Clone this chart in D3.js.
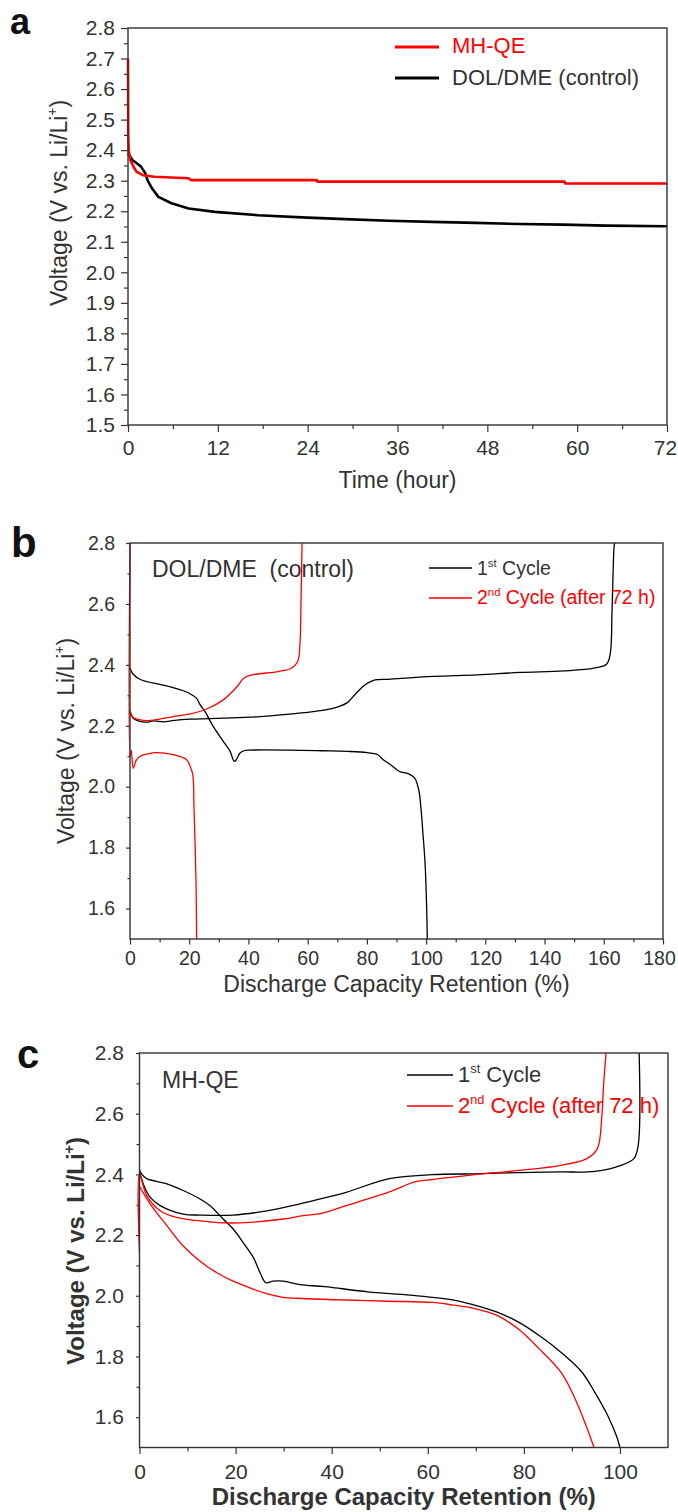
<!DOCTYPE html>
<html>
<head>
<meta charset="utf-8">
<script src="https://cdn.jsdelivr.net/npm/d3@7"></script>
<style>
  body { margin: 0; background: #fff; }
  svg { display: block; font-family: "Liberation Sans", Arial, sans-serif; }
</style>
</head>
<body>
<svg id="chart" width="678" height="1512"></svg>
<script>
// ---- panel a: voltage vs time (hour) ----
const aTimeTicks = [0, 12, 24, 36, 48, 60, 72];
const aTimeMinor = [6, 18, 30, 42, 54, 66];
const aVoltTicks = [1.5, 1.6, 1.7, 1.8, 1.9, 2.0, 2.1, 2.2, 2.3, 2.4, 2.5, 2.6, 2.7, 2.8];
const aVoltMinor = [1.55, 1.65, 1.75, 1.85, 1.95, 2.05, 2.15, 2.25, 2.35, 2.45, 2.55, 2.65, 2.75];
const aMHQE = [[0, 2.70], [0.03, 2.45], [0.1, 2.40], [0.29, 2.368], [0.87, 2.34], [1.16, 2.329], [2.0, 2.318],
  [3.5, 2.313], [8.1, 2.308], [8.4, 2.302], [25.2, 2.302], [25.3, 2.297], [58.3, 2.297], [58.4, 2.291], [72, 2.291]];
const aControl = [[0, 2.39], [0.58, 2.368], [1.16, 2.357], [1.74, 2.346], [2.32, 2.324], [2.6, 2.302], [3.2, 2.275],
  [4.06, 2.247], [5.8, 2.226], [8.1, 2.209], [11.6, 2.198], [17.4, 2.187], [23.2, 2.18], [29, 2.174], [34.8, 2.169],
  [40.6, 2.165], [46.5, 2.162], [52.3, 2.158], [58, 2.156], [63.9, 2.153], [72, 2.151]];

// ---- panel b: DOL/DME (control) ----
const bCapTicks = [0, 20, 40, 60, 80, 100, 120, 140, 160, 180];
const bCapMinor = [10, 30, 50, 70, 90, 110, 130, 150, 170];
const bVoltTicks = [1.6, 1.8, 2.0, 2.2, 2.4, 2.6, 2.8];
const bVoltMinor = [1.7, 1.9, 2.1, 2.3, 2.5, 2.7];
const bCycle1Dis = [[0, 2.39], [1, 2.37], [3.7, 2.351], [10, 2.336], [14, 2.327], [18, 2.315], [20.3, 2.305], [22.5, 2.29],
  [23.6, 2.27], [25.3, 2.247], [28.1, 2.198], [31.5, 2.149], [33.8, 2.116], [35.2, 2.083], [36, 2.09], [37.1, 2.11],
  [38.5, 2.118], [40.5, 2.12], [54, 2.12], [65, 2.118], [73.4, 2.116], [80, 2.112], [83.7, 2.105], [85.1, 2.092],
  [88, 2.072], [91, 2.05], [93.9, 2.043], [96.1, 2.029], [97.5, 1.99], [98.3, 1.925], [99, 1.837], [99.3, 1.80],
  [99.7, 1.739], [100.2, 1.597], [100.4, 1.5]];
const bCycle1Chg = [[0, 2.245], [1, 2.225], [3, 2.215], [5.6, 2.212], [8, 2.216], [11.3, 2.213], [15, 2.218], [20.3, 2.222],
  [31.5, 2.225], [44, 2.23], [58.8, 2.243], [66, 2.252], [70.5, 2.263], [73.4, 2.276], [76.4, 2.307], [79.3, 2.334],
  [82.2, 2.349], [88, 2.353], [102.6, 2.362], [117.2, 2.367], [131.8, 2.375], [146.4, 2.38], [156.7, 2.389],
  [161, 2.403], [162.2, 2.438], [162.8, 2.58], [163.5, 2.79], [163.7, 2.8]];
const bCycle2Dis = [[0, 2.8], [0, 2.1], [0.4, 2.12], [1.1, 2.06], [2, 2.085], [3.4, 2.1], [6, 2.108], [9, 2.112],
  [14.6, 2.105], [19.1, 2.089], [20.3, 2.067], [21.2, 2.04], [21.6, 1.935], [22.3, 1.684], [22.5, 1.5]];
const bCycle2Chg = [[0, 2.25], [1, 2.228], [2.25, 2.222], [5.6, 2.217], [10, 2.222], [14.6, 2.23], [20.3, 2.239],
  [25.9, 2.255], [31.5, 2.285], [36.2, 2.329], [38.4, 2.356], [41.3, 2.367], [50.1, 2.378], [54.5, 2.389],
  [56.6, 2.41], [57.4, 2.471], [57.7, 2.58], [58.1, 2.8]];

// ---- panel c: MH-QE ----
const cCapTicks = [0, 20, 40, 60, 80, 100];
const cCapMinor = [10, 30, 50, 70, 90];
const cVoltTicks = bVoltTicks;
const cVoltMinor = bVoltMinor;
const cCycle1Dis = [[0, 2.415], [0.5, 2.40], [1.5, 2.386], [5.7, 2.369], [9.1, 2.347], [12.6, 2.319], [14.7, 2.297],
  [17.4, 2.253], [19.5, 2.22], [21.6, 2.175], [23.7, 2.126], [25.1, 2.076], [26.3, 2.043], [27.8, 2.048],
  [29.9, 2.048], [33.4, 2.037], [38.6, 2.03], [47.5, 2.013], [56.4, 2.002], [65.4, 1.986], [69.8, 1.969],
  [74.3, 1.947], [78.8, 1.914], [83.2, 1.869], [87.7, 1.814], [92.1, 1.748], [94.8, 1.681], [97.5, 1.604],
  [99.3, 1.537], [100, 1.5]];
const cCycle1Chg = [[0, 2.408], [1, 2.36], [2.2, 2.325], [4.3, 2.297], [9.1, 2.269], [12.6, 2.266], [19.5, 2.266],
  [26.5, 2.28], [33.4, 2.303], [37.6, 2.319], [43, 2.341], [52, 2.386], [60.9, 2.399], [69.8, 2.402], [78.8, 2.406],
  [87.7, 2.408], [94.8, 2.41], [100.2, 2.43], [102.9, 2.452], [103.8, 2.496], [104, 2.8]];
const cCycle2Chg = [[0, 2.14], [0, 2.40], [1.5, 2.33], [4.3, 2.28], [7.7, 2.258], [12.6, 2.247], [18.1, 2.24], [23, 2.242],
  [29.9, 2.253], [34.1, 2.264], [37.6, 2.271], [43, 2.297], [52, 2.342], [57.3, 2.375], [60.9, 2.383], [69.8, 2.399],
  [78.8, 2.413], [87.7, 2.43], [93.1, 2.452], [95.3, 2.485], [96.2, 2.585], [96.6, 2.696], [97.1, 2.8]];
const cCycle2Dis = [[0, 2.36], [2.2, 2.303], [5.7, 2.231], [9.1, 2.164], [12.6, 2.114], [16.1, 2.076], [19.5, 2.048],
  [23, 2.026], [26.5, 2.007], [29.9, 1.995], [34.1, 1.991], [43, 1.986], [52, 1.982], [60.9, 1.978], [65.4, 1.969],
  [69.8, 1.958], [74.3, 1.936], [78.8, 1.891], [83.2, 1.825], [87.7, 1.748], [90.4, 1.67], [93, 1.57], [94.6, 1.5]];

const RED = '#ff0000';
const INK = '#333';
const svg = d3.select('#chart');
svg.append('rect').attr('width', 678).attr('height', 1512).attr('fill', '#fff');

function panel(o) {
  const g = svg.append('g').attr('transform', `translate(${o.left},${o.top})`);
  const x = d3.scaleLinear().domain(o.xDomain).range([0, o.w]);
  const y = d3.scaleLinear().domain([1.5, 2.8]).range([o.h, 0]);

  const style = sel => {
    sel.select('.domain').remove();
    sel.selectAll('line').attr('stroke', INK).attr('stroke-width', 1.2);
    sel.selectAll('text').attr('fill', INK).attr('font-size', o.tickFont)
      .attr('font-family', '"Liberation Sans", Arial, sans-serif');
  };

  const xAxis = g.append('g').attr('transform', `translate(0,${o.h})`)
    .call(d3.axisBottom(x).tickValues(o.xTicks).tickSize(o.xt).tickPadding(o.xp).tickFormat(d3.format('d')))
    .call(style);
  // keep the last x label inside the page
  xAxis.selectAll('.tick text').filter(d => d === o.xTicks[o.xTicks.length - 1]).attr('dx', o.lastDx || 0);
  g.append('g').attr('transform', `translate(0,${o.h})`)
    .call(d3.axisBottom(x).tickValues(o.xMinor).tickSize(o.xtm).tickFormat(''))
    .call(style);
  g.append('g')
    .call(d3.axisLeft(y).tickValues(o.yTicks).tickSize(o.yt).tickPadding(o.yp).tickFormat(d3.format('.1f')))
    .call(style);
  g.append('g')
    .call(d3.axisLeft(y).tickValues(o.yMinor).tickSize(o.ytm).tickFormat(''))
    .call(style);

  const line = d3.line().x(d => x(d[0])).y(d => y(d[1])).curve(o.curve || d3.curveLinear);
  o.series.forEach(s => {
    g.append('path').datum(s.data).attr('d', line)
      .attr('fill', 'none').attr('stroke', s.color).attr('stroke-width', o.lw)
      .attr('stroke-linejoin', 'round');
  });

  g.append('rect').attr('width', o.w).attr('height', o.h)
    .attr('fill', 'none').attr('stroke', INK).attr('stroke-width', 1.4);

  // axis titles
  g.append('text').attr('x', o.w / 2).attr('y', o.xTitleY)
    .attr('text-anchor', 'middle').attr('font-size', o.titleFont).attr('font-weight', o.titleWeight)
    .attr('fill', INK).text(o.xTitle);
  const yt = g.append('text')
    .attr('transform', `translate(${o.yTitleX},${o.yTitleY}) rotate(-90)`)
    .attr('text-anchor', 'middle').attr('font-size', o.titleFont).attr('font-weight', o.titleWeight)
    .attr('fill', INK);
  yt.append('tspan').text('Voltage (V vs. Li/Li');
  yt.append('tspan').attr('dy', -o.titleFont * 0.42).attr('font-size', o.titleFont * 0.6).text('+');
  yt.append('tspan').attr('dy', o.titleFont * 0.42).text(')');

  // panel letter
  svg.append('text').attr('x', o.letterX).attr('y', o.letterY)
    .attr('font-size', o.letterFont).attr('font-weight', 'bold').attr('fill', '#111').text(o.letter);

  return { g, x, y };
}

function legendRow(g, x1, x2, y, color, lw, tx, ty, size, main, sup, rest) {
  g.append('line').attr('x1', x1).attr('x2', x2).attr('y1', y).attr('y2', y)
    .attr('stroke', color).attr('stroke-width', lw);
  const t = g.append('text').attr('x', tx).attr('y', ty).attr('font-size', size)
    .attr('fill', color === RED ? RED : INK);
  t.append('tspan').text(main);
  if (sup) {
    t.append('tspan').attr('dy', -size * 0.42).attr('font-size', size * 0.58).text(sup);
    t.append('tspan').attr('dy', size * 0.42).text(rest);
  }
}

const smooth = d3.curveCatmullRom.alpha(0.5);

// panel a
panel({
  left: 128, top: 28, w: 539, h: 397, xDomain: [0, 72],
  xTicks: aTimeTicks, xMinor: aTimeMinor, yTicks: aVoltTicks, yMinor: aVoltMinor,
  xt: 7, xtm: 4, xp: 8, yt: 7, ytm: 4, yp: 6, tickFont: 21, lastDx: -2,
  lw: 2.6, series: [{ data: aControl, color: '#000' }, { data: aMHQE, color: RED }],
  xTitle: 'Time (hour)', xTitleY: 460, titleFont: 23, titleWeight: 'normal',
  yTitleX: -61, yTitleY: 175, letter: 'a', letterX: 10, letterY: 34, letterFont: 36
});
legendRow(svg, 395, 439, 47, RED, 3, 452, 53, 22, 'MH-QE');
legendRow(svg, 395, 439, 78, '#000', 3, 452, 85, 22, 'DOL/DME (control)');

// panel b
panel({
  left: 130, top: 543, w: 533, h: 396, xDomain: [0, 180],
  xTicks: bCapTicks, xMinor: bCapMinor, yTicks: bVoltTicks, yMinor: bVoltMinor,
  xt: 5.5, xtm: 3.3, xp: 6.5, yt: 4, ytm: 2.5, yp: 11, tickFont: 19.5, lastDx: -4,
  lw: 1.3, curve: smooth, series: [{ data: bCycle1Dis, color: '#000' }, { data: bCycle1Chg, color: '#000' },
    { data: bCycle2Dis, color: RED }, { data: bCycle2Chg, color: RED }],
  xTitle: 'Discharge Capacity Retention (%)', xTitleY: 449, titleFont: 23, titleWeight: 'normal',
  yTitleX: -56, yTitleY: 198, letter: 'b', letterX: 11, letterY: 557, letterFont: 42
});
svg.append('text').attr('x', 152).attr('y', 577).attr('font-size', 23).attr('fill', INK)
  .attr('xml:space', 'preserve').style('white-space', 'pre').text('DOL/DME  (control)');
legendRow(svg, 429, 472, 568, '#000', 1.3, 477, 575, 19.5, '1', 'st', ' Cycle');
legendRow(svg, 429, 472, 598, RED, 1.3, 477, 604, 19.5, '2', 'nd', ' Cycle (after 72 h)');

// panel c
panel({
  left: 139.5, top: 1053, w: 528.5, h: 394.5, xDomain: [0, 110],
  xTicks: cCapTicks, xMinor: cCapMinor, yTicks: cVoltTicks, yMinor: cVoltMinor,
  xt: 6.5, xtm: 4, xp: 10, yt: 3.5, ytm: 3, yp: 12, tickFont: 21,
  lw: 1.3, curve: smooth, series: [{ data: cCycle1Dis, color: '#000' }, { data: cCycle1Chg, color: '#000' },
    { data: cCycle2Dis, color: RED }, { data: cCycle2Chg, color: RED }],
  xTitle: 'Discharge Capacity Retention (%)', xTitleY: 452, titleFont: 24, titleWeight: 'bold',
  yTitleX: -55.5, yTitleY: 198, letter: 'c', letterX: 17, letterY: 1068, letterFont: 40
});
svg.append('text').attr('x', 162).attr('y', 1088).attr('font-size', 23).attr('fill', INK).text('MH-QE');
legendRow(svg, 407, 453, 1075, '#000', 1.3, 458, 1082, 22, '1', 'st', ' Cycle');
legendRow(svg, 407, 453, 1106, RED, 1.3, 458, 1113, 22, '2', 'nd', ' Cycle (after 72 h)');
</script>
</body>
</html>
